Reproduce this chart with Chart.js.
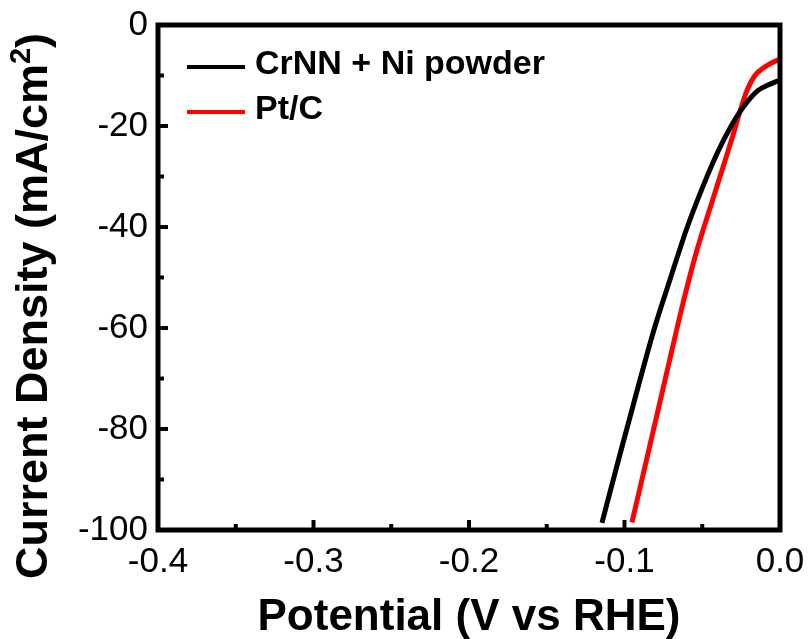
<!DOCTYPE html>
<html>
<head>
<meta charset="utf-8">
<script src="https://cdn.jsdelivr.net/npm/chart.js@4"></script>
<style>
  body { margin: 0; background: #fff; }
  canvas { display: block; }
</style>
</head>
<body>
<canvas id="lsv-chart" width="812" height="639"></canvas>
<script>
// LSV curves, values
const crnnPotential = [-0.1145, -0.1029, -0.0898, -0.0807, -0.0703, -0.0596, -0.0496, -0.0398, -0.0314, -0.0230, -0.0143, -0.0077, 0.0];
const crnnCurrent   = [-98.6, -85.0, -70.0, -60.0, -50.0, -40.0, -32.0, -25.0, -20.0, -16.0, -13.0, -11.9, -10.9];

const ptcPotential = [-0.0952, -0.0850, -0.0737, -0.0623, -0.0538, -0.0437, -0.0365, -0.0304, -0.0256, -0.0213, -0.0161, -0.0096, 0.0];
const ptcCurrent   = [-98.5, -85.0, -70.0, -55.0, -45.0, -35.0, -28.0, -22.0, -17.0, -13.0, -10.0, -8.3, -6.7];

const seriesNames = ["CrNN + Ni powder", "Pt/C"];
const seriesColors = ["#000000", "#ff0000"];

const xMajor = [-0.4, -0.3, -0.2, -0.1, 0.0];
const xMinor = [-0.35, -0.25, -0.15, -0.05];
const yMajor = [0, -20, -40, -60, -80, -100];
const yMinor = [-10, -30, -50, -70, -90];

const xTitle = "Potential (V vs RHE)";

function toPoints(xs, ys) {
  return xs.map((x, i) => ({ x: x, y: ys[i] }));
}

// frame, inward ticks, legend and axis titles
const decorPlugin = {
  id: "decor",
  afterDatasetsDraw(chart) {
    const c = chart.ctx;
    const a = chart.chartArea;
    const sx = chart.scales.x, sy = chart.scales.y;
    c.save();
    c.strokeStyle = "#000";
    c.lineWidth = 4;
    c.lineCap = "butt";

    // ticks
    c.beginPath();
    xMajor.forEach(v => { const px = sx.getPixelForValue(v); c.moveTo(px, a.bottom); c.lineTo(px, a.bottom - 10); });
    xMinor.forEach(v => { const px = sx.getPixelForValue(v); c.moveTo(px, a.bottom); c.lineTo(px, a.bottom - 6); });
    yMajor.forEach(v => { const py = sy.getPixelForValue(v); c.moveTo(a.left, py); c.lineTo(a.left + 10, py); });
    yMinor.forEach(v => { const py = sy.getPixelForValue(v); c.moveTo(a.left, py); c.lineTo(a.left + 6, py); });
    c.stroke();

    // frame
    c.lineWidth = 5;
    c.strokeRect(a.left, a.top, a.right - a.left, a.bottom - a.top);

    // legend
    c.lineWidth = 4;
    c.font = "bold 34px 'Liberation Sans', Arial, sans-serif";
    c.textBaseline = "middle";
    c.textAlign = "left";
    c.fillStyle = "#000";
    seriesNames.forEach((name, i) => {
      const ly = a.top + 42 + i * 45;
      c.strokeStyle = seriesColors[i];
      c.beginPath();
      c.moveTo(a.left + 29, ly);
      c.lineTo(a.left + 87, ly);
      c.stroke();
      c.fillText(name, a.left + 97, ly - 2);
    });

    // x title
    c.font = "bold 44px 'Liberation Sans', Arial, sans-serif";
    c.textAlign = "center";
    c.textBaseline = "alphabetic";
    c.fillText(xTitle, (a.left + a.right) / 2, 630);

    // y title with superscript
    const big = "bold 45px 'Liberation Sans', Arial, sans-serif";
    const small = "bold 29px 'Liberation Sans', Arial, sans-serif";
    const p1 = "Current Density (mA/cm", p2 = "2", p3 = ")";
    c.font = big;
    const w1 = c.measureText(p1).width, w3 = c.measureText(p3).width;
    c.font = small;
    const w2 = c.measureText(p2).width;
    const total = w1 + w2 + w3;
    c.translate(47, 306);
    c.rotate(-Math.PI / 2);
    c.textAlign = "left";
    let x0 = -total / 2;
    c.font = big;
    c.fillText(p1, x0, 0);
    c.font = small;
    c.fillText(p2, x0 + w1, -17);
    c.font = big;
    c.fillText(p3, x0 + w1 + w2, 0);
    c.restore();
  }
};

const ctx = document.getElementById("lsv-chart").getContext("2d");

new Chart(ctx, {
  type: "scatter",
  data: {
    datasets: [
      {
        label: seriesNames[0],
        data: toPoints(crnnPotential, crnnCurrent),
        showLine: true,
        borderColor: seriesColors[0],
        borderWidth: 5,
        pointRadius: 0,
        cubicInterpolationMode: "monotone"
      },
      {
        label: seriesNames[1],
        data: toPoints(ptcPotential, ptcCurrent),
        showLine: true,
        borderColor: seriesColors[1],
        borderWidth: 5,
        pointRadius: 0,
        cubicInterpolationMode: "monotone"
      }
    ]
  },
  options: {
    responsive: false,
    animation: false,
    layout: { padding: { left: 0, right: 32, top: 25, bottom: 0 } },
    plugins: {
      legend: { display: false },
      tooltip: { enabled: false }
    },
    scales: {
      x: {
        type: "linear",
        min: -0.4,
        max: 0,
        grid: { display: false, drawTicks: false },
        border: { display: false },
        afterFit(scale) {
          scale.height = 109;
          scale.paddingLeft = 0;
          scale.paddingRight = 0;
        },
        ticks: {
          stepSize: 0.1,
          autoSkip: false,
          maxRotation: 0,
          padding: 11,
          color: "#000",
          font: { family: "'Liberation Sans', Arial, sans-serif", size: 35 },
          callback: v => Number(v).toFixed(1)
        }
      },
      y: {
        type: "linear",
        min: -100,
        max: 0,
        grid: { display: false, drawTicks: false },
        border: { display: false },
        afterFit(scale) {
          scale.width = 158;
          scale.paddingTop = 0;
          scale.paddingBottom = 0;
        },
        ticks: {
          stepSize: 20,
          padding: 10,
          color: "#000",
          font: { family: "'Liberation Sans', Arial, sans-serif", size: 35 }
        }
      }
    }
  },
  plugins: [decorPlugin]
});
</script>
</body>
</html>
